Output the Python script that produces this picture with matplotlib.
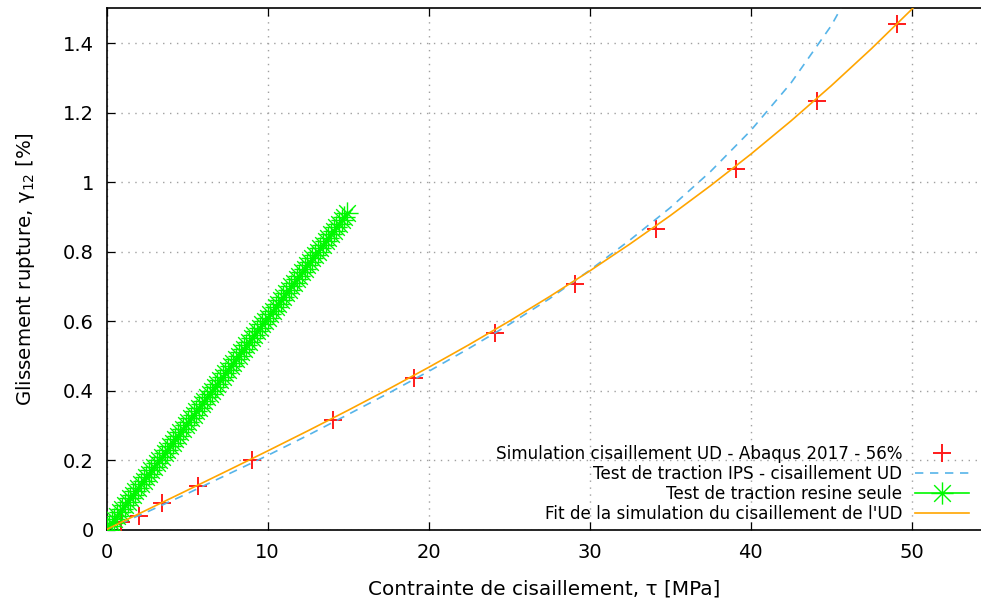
import matplotlib
matplotlib.use("Agg")
import matplotlib.pyplot as plt
from matplotlib.path import Path

plt.rcParams['font.family'] = ['DejaVu Sans']
plt.rcParams['mathtext.fontset'] = 'dejavusans'
plt.rcParams['mathtext.default'] = 'regular'

# ---- data ----
sim_tau = [0.9, 2.0, 3.45, 5.7, 9.05, 14.05, 19.1, 24.1, 29.1, 34.1, 39.1, 44.1, 49.1]
sim_gamma = [0.022, 0.039, 0.076, 0.126, 0.199, 0.316, 0.436, 0.566, 0.707, 0.864, 1.037, 1.233, 1.455]

ips_tau = [0, 2.5, 5, 7.5, 10, 12.5, 15, 17.5, 20, 22.5, 25, 27.5, 30, 32.5, 35, 37.5, 40, 42.5, 45, 45.6]
ips_gamma = [0, 0.05, 0.103, 0.158, 0.213, 0.271, 0.331, 0.392, 0.455, 0.521, 0.59, 0.664, 0.746, 0.833,
             0.926, 1.03, 1.148, 1.285, 1.45, 1.50]

resin_tau = [0.00, 0.16, 0.33, 0.49, 0.66, 0.82, 0.98, 1.15, 1.31, 1.48,
             1.64, 1.80, 1.97, 2.13, 2.30, 2.46, 2.62, 2.79, 2.95, 3.12,
             3.28, 3.44, 3.61, 3.77, 3.94, 4.10, 4.26, 4.43, 4.59, 4.76,
             4.92, 5.08, 5.25, 5.41, 5.58, 5.74, 5.90, 6.07, 6.23, 6.40,
             6.56, 6.72, 6.89, 7.05, 7.22, 7.38, 7.54, 7.71, 7.87, 8.04,
             8.20, 8.36, 8.53, 8.69, 8.86, 9.02, 9.18, 9.35, 9.51, 9.68,
             9.84, 10.00, 10.17, 10.33, 10.50, 10.66, 10.82, 10.99, 11.15, 11.32,
             11.48, 11.64, 11.81, 11.97, 12.14, 12.30, 12.46, 12.63, 12.79, 12.96,
             13.12, 13.28, 13.45, 13.61, 13.78, 13.94, 14.10, 14.27, 14.43, 14.60,
             14.76, 14.92]
resin_gamma = [0.00, 0.01, 0.02, 0.03, 0.04, 0.05, 0.06, 0.07, 0.08, 0.09,
               0.10, 0.11, 0.12, 0.13, 0.14, 0.15, 0.16, 0.17, 0.18, 0.19,
               0.20, 0.21, 0.22, 0.23, 0.24, 0.25, 0.26, 0.27, 0.28, 0.29,
               0.30, 0.31, 0.32, 0.33, 0.34, 0.35, 0.36, 0.37, 0.38, 0.39,
               0.40, 0.41, 0.42, 0.43, 0.44, 0.45, 0.46, 0.47, 0.48, 0.49,
               0.50, 0.51, 0.52, 0.53, 0.54, 0.55, 0.56, 0.57, 0.58, 0.59,
               0.60, 0.61, 0.62, 0.63, 0.64, 0.65, 0.66, 0.67, 0.68, 0.69,
               0.70, 0.71, 0.72, 0.73, 0.74, 0.75, 0.76, 0.77, 0.78, 0.79,
               0.80, 0.81, 0.82, 0.83, 0.84, 0.85, 0.86, 0.87, 0.88, 0.89,
               0.90, 0.91]

fit_tau = [0, 2.5, 5, 7.5, 10, 12.5, 15, 17.5, 20, 22.5, 25, 27.5, 30, 32.5, 35, 37.5, 40,
           42.5, 45, 47.5, 50, 50.5]
fit_gamma = [0, 0.0563, 0.1125, 0.169, 0.226, 0.2839, 0.3431, 0.4039, 0.4666, 0.5316, 0.5993,
             0.670, 0.7439, 0.8216, 0.9032, 0.9893, 1.0799, 1.1758, 1.2770, 1.3839, 1.497, 1.5202]

xticks = [0, 10, 20, 30, 40, 50]
yticks = [0, 0.2, 0.4, 0.6, 0.8, 1.0, 1.2, 1.4]
ytick_labels = ['0', '0.2', '0.4', '0.6', '0.8', '1', '1.2', '1.4']

labels = ["Simulation cisaillement UD - Abaqus 2017 - 56%",
          "Test de traction IPS - cisaillement UD",
          "Test de traction resine seule",
          "Fit de la simulation du cisaillement de l'UD"]

# ---- figure ----
fig = plt.figure(figsize=(9.81, 6.04), dpi=100)
ax = fig.add_axes([106.5 / 981, (604 - 529.5) / 604, (981 - 106.5) / 981, (529.5 - 8.3) / 604])

asterisk = Path([(-1, 0), (1, 0), (0, -1), (0, 1), (-0.75, -0.75), (0.75, 0.75), (-0.75, 0.75), (0.75, -0.75)],
                [Path.MOVETO, Path.LINETO, Path.MOVETO, Path.LINETO,
                 Path.MOVETO, Path.LINETO, Path.MOVETO, Path.LINETO])

h1, = ax.plot(sim_tau, sim_gamma, linestyle='none', marker='+', color='#ff1a1a',
              markersize=12.5, markeredgewidth=1.4, label=labels[0], zorder=3)
h2, = ax.plot(ips_tau, ips_gamma, linestyle=(0, (5, 4)), color='#56b4e9', linewidth=1.2,
              label=labels[1], zorder=3)
h3, = ax.plot(resin_tau, resin_gamma, linestyle='-', color='#00f800', linewidth=1.2,
              marker=asterisk, markersize=16, markeredgewidth=1.0, markerfacecolor='none',
              markeredgecolor='#00f800', label=labels[2], zorder=3)
h4, = ax.plot(fit_tau, fit_gamma, linestyle='-', color='#ffa500', linewidth=1.2,
              label=labels[3], zorder=4)

ax.set_xlim(0, 54.3)
ax.set_ylim(0, 1.5)
ax.set_xticks(xticks)
ax.set_yticks(yticks)
ax.set_yticklabels(ytick_labels)

ax.grid(True, color='#a0a0a0', linestyle=(0, (1, 4)), linewidth=1.0)
ax.tick_params(direction='in', length=6, width=0.9, labelsize=14, top=True, right=False,
               colors='black')
ax.tick_params(axis='x', pad=10)
ax.tick_params(axis='y', pad=9)
for s in ['left', 'bottom', 'top']:
    ax.spines[s].set_linewidth(1.2)
ax.spines['right'].set_visible(False)

ax.set_xlabel("Contrainte de cisaillement, τ [MPa]", fontsize=14.4, labelpad=12)
ax.set_ylabel("Glissement rupture, γ$_{12}$ [%]", fontsize=14.2, labelpad=19)

leg = ax.legend(handles=[h1, h2, h3, h4], loc='lower right', bbox_to_anchor=(0.986, 0.012),
                frameon=False, markerfirst=False, fontsize=12.1, handlelength=3.2,
                handletextpad=0.75, labelspacing=0.12, borderpad=0, borderaxespad=0)

fig.savefig("out.png", dpi=100)
